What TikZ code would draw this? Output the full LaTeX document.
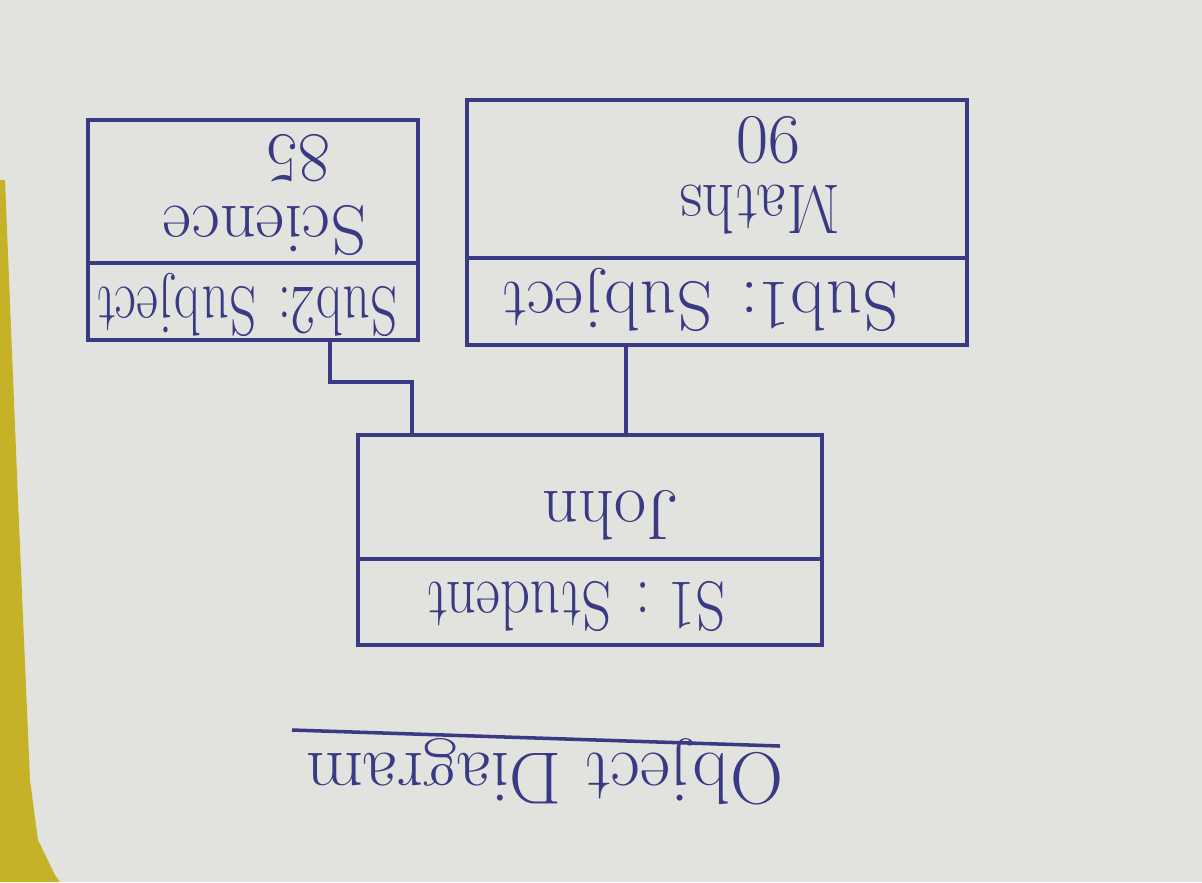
\documentclass[tikz,border=0pt]{standalone}
\usepackage{tikz}
\usepackage{graphicx}
\usetikzlibrary{calc}

\definecolor{ink}{RGB}{58,58,132}
\definecolor{paper}{RGB}{226,226,222}
\definecolor{deskyellow}{RGB}{198,178,38}

\tikzset{
	objbox/.style={draw=ink, line width=1pt, rectangle, inner sep=0pt},
	hand/.style={text=ink, rotate=180, font=\fontsize{20}{24}\selectfont, inner sep=0pt},
	pen/.style={draw=ink, line width=1pt}
}

\begin{document}
\begin{tikzpicture}
		\fill[paper] (0,0) rectangle (12.02,-8.82);
		\useasboundingbox (0,0) rectangle (12.02,-8.82);
		
		\fill[deskyellow] (0,-1.8) -- (0.05,-1.8) -- (0.18,-5) -- (0.3,-7.8) -- (0.38,-8.4) -- (0.55,-8.75) -- (0.6,-8.82) -- (0,-8.82) -- cycle;
		
		\node[objbox, minimum width=5.00cm, minimum height=2.45cm] (sub1) at (7.17,-2.225) {};
		\node[objbox, minimum width=3.30cm, minimum height=2.20cm] (sub2) at (2.53,-2.30) {};
		\node[objbox, minimum width=4.64cm, minimum height=2.10cm] (s1) at (5.90,-5.40) {};
		
		\draw[pen] (sub1.west |- 0,-2.58) -- (sub1.east |- 0,-2.58);
		\draw[pen] (sub2.west |- 0,-2.63) -- (sub2.east |- 0,-2.63);
		\draw[pen] (s1.west |- 0,-5.59) -- (s1.east |- 0,-5.59);
		
		\node[hand] (sub1name) at (7.00,-3.00) {Sub1: Subject};
		\node[hand] (sub1subj) at (7.60,-2.10) {\scalebox{0.9}[1]{Maths}};
		\node[hand] (sub1mark) at (7.68,-1.40) {90};
		
		\node[hand] (sub2name) at (2.47,-3.05) {\scalebox{0.76}[1]{Sub2: Subject}};
		\node[hand] (sub2subj) at (2.65,-2.30) {Science};
		\node[hand] (sub2mark) at (2.98,-1.58) {85};
		
		\node[hand] (s1name) at (5.76,-6.06) {\scalebox{0.84}[1]{S1 : Student}};
		\node[hand] (s1val) at (6.11,-5.15) {John};
		
		\coordinate (sub1foot) at (6.26,-3.45);
		\draw[pen] (sub1foot) -- (sub1foot |- s1.north);
		
		\coordinate (sub2foot) at (3.30,-3.40);
		\coordinate (s1head) at (4.12,-4.35);
		\draw[pen] (s1head) -- ++(0,0.53) -| (sub2foot);
		
		\node[hand, font=\fontsize{21}{25}\selectfont] (title) at (5.45,-7.72) {Object Diagram};
		\draw[pen] (2.92,-7.30) -- (7.80,-7.46);
		
		\end{tikzpicture}
\end{document}
